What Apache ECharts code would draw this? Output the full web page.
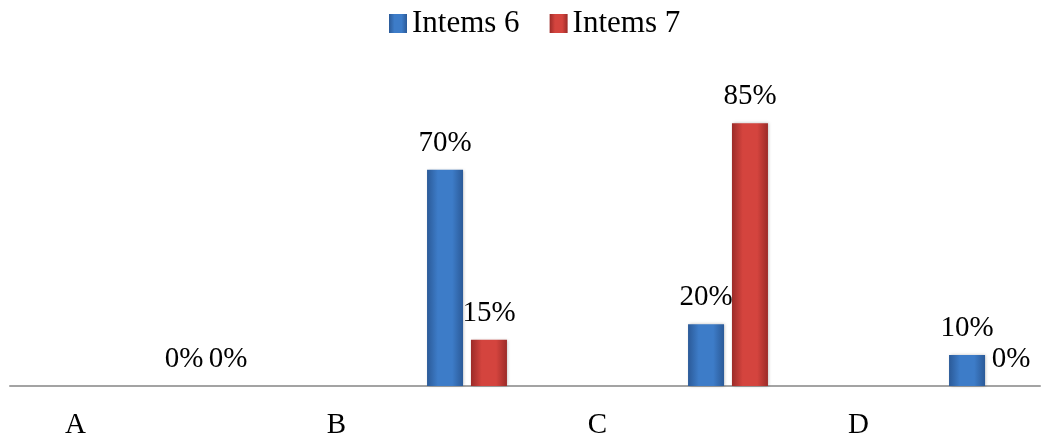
<!DOCTYPE html>
<html>
<head>
<meta charset="utf-8">
<script src="https://cdn.jsdelivr.net/npm/echarts@6/dist/echarts.min.js"></script>
<style>
  html, body { margin: 0; padding: 0; background: #fff; }
  #chart { width: 1054px; height: 439px; }
</style>
</head>
<body>
<div id="chart"></div>
<script>
const categories = ['A', 'B', 'C', 'D'];
const items6 = [0, 70, 20, 10];
const items7 = [0, 15, 85, 0];
const seriesNames = ['Intems 6', 'Intems 7'];

const font = '"Liberation Serif", "Times New Roman", serif';

// bars get a light middle and dark edges, a bit like the old 3D office look
const shade = (edge, mid) => new echarts.graphic.LinearGradient(0, 0, 1, 0, [
    {offset: 0, color: edge},
    {offset: 0.3, color: mid},
    {offset: 0.7, color: mid},
    {offset: 1, color: edge}
]);

const blue = shade('#2b5a98', '#3d7cc8');
const red = shade('#9c2b28', '#d4443e');

const label = {
    show: true,
    position: 'top',
    distance: 12,
    formatter: '{c}%',
    color: '#000',
    fontFamily: font,
    fontSize: 29
};

const chart = echarts.init(document.getElementById('chart'));
chart.setOption({
    animation: false,
    legend: {
        data: seriesNames,
        left: 389,
        top: 8,
        padding: 0,
        itemWidth: 18,
        itemHeight: 19,
        itemGap: 30,
        icon: 'rect',
        textStyle: {fontFamily: font, fontSize: 31, color: '#000'}
    },
    grid: [
        // bars: band width matches the spacing in the picture (261px)
        {left: 75.5, width: 1044, top: 77, height: 309, containLabel: false, outerBoundsMode: 'none'},
        // baseline only
        {left: 10, right: 14, top: 77, height: 309, containLabel: false, outerBoundsMode: 'none'}
    ],
    xAxis: [
        {
            type: 'category',
            gridIndex: 0,
            data: categories,
            axisLine: {show: false},
            axisTick: {show: false},
            axisLabel: {
                interval: 0,
                margin: 25,
                color: '#000',
                fontFamily: font,
                fontSize: 29,
                // the labels sit at the start of each band, not the middle
                padding: [0, 261, 0, 0]
            }
        },
        {
            type: 'value',
            gridIndex: 1,
            min: 0,
            max: 1,
            axisLine: {show: true, lineStyle: {color: '#a3a3a3', width: 2}},
            axisTick: {show: false},
            axisLabel: {show: false},
            splitLine: {show: false}
        }
    ],
    yAxis: [
        {type: 'value', gridIndex: 0, min: 0, max: 100, show: false},
        {type: 'value', gridIndex: 1, min: 0, max: 1, show: false}
    ],
    series: [
        {
            name: seriesNames[0],
            type: 'bar',
            data: items6,
            barWidth: 36,
            barGap: '22%',
            itemStyle: {color: blue, shadowColor: 'rgba(0,0,0,0.25)', shadowBlur: 3, shadowOffsetX: 1},
            label: label
        },
        {
            name: seriesNames[1],
            type: 'bar',
            data: items7,
            barWidth: 36,
            barGap: '22%',
            itemStyle: {color: red, shadowColor: 'rgba(0,0,0,0.25)', shadowBlur: 3, shadowOffsetX: 1},
            label: label
        }
    ]
});
</script>
</body>
</html>
